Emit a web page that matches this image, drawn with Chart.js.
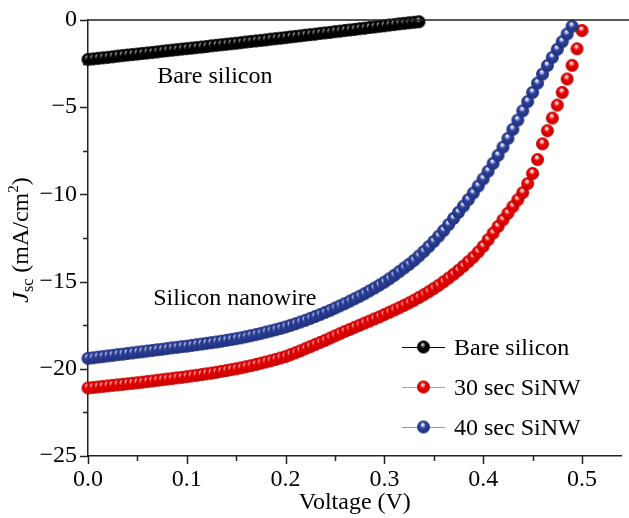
<!DOCTYPE html>
<html>
<meta charset="UTF-8">
<head>
    <title>J-V curves</title>
    <script src="https://cdn.jsdelivr.net/npm/chart.js"></script>
    <style>
        body { margin: 0; background: #fff; }
        #chartContainer { width: 629px; height: 518px; }
    </style>
</head>
<body>
<div id="chartContainer">
    <canvas id="chart"></canvas>
</div>

<script>
    // series labels
    const seriesNames = ['Bare silicon', '30 sec SiNW', '40 sec SiNW'];

    // voltage step of the measurement, V
    const voltageStep = 0.005;

    // Jsc (mA/cm2), one value per voltage step starting at 0 V
    const bareSilicon = [
        -2.26, -2.23, -2.20, -2.17, -2.14, -2.11, -2.07, -2.04, -2.01, -1.98,
        -1.95, -1.92, -1.89, -1.86, -1.83, -1.79, -1.76, -1.73, -1.70, -1.67,
        -1.64, -1.61, -1.58, -1.55, -1.52, -1.48, -1.45, -1.42, -1.39, -1.36,
        -1.33, -1.30, -1.26, -1.23, -1.20, -1.17, -1.14, -1.10, -1.07, -1.04,
        -1.01, -0.97, -0.94, -0.91, -0.87, -0.84, -0.81, -0.77, -0.74, -0.71,
        -0.67, -0.64, -0.60, -0.57, -0.54, -0.50, -0.47, -0.43, -0.40, -0.36,
        -0.33, -0.29, -0.26, -0.22, -0.19, -0.16, -0.13, -0.10
    ];

    const sinw30 = [
        -21.10, -21.07, -21.04, -21.01, -20.98, -20.95, -20.92, -20.89, -20.86, -20.83,
        -20.80, -20.77, -20.73, -20.70, -20.66, -20.63, -20.59, -20.56, -20.52, -20.49,
        -20.45, -20.41, -20.37, -20.33, -20.29, -20.25, -20.20, -20.15, -20.10, -20.05,
        -20.00, -19.94, -19.88, -19.82, -19.75, -19.68, -19.61, -19.54, -19.46, -19.38,
        -19.30, -19.19, -19.08, -18.97, -18.85, -18.73, -18.61, -18.49, -18.37, -18.24,
        -18.11, -17.99, -17.86, -17.74, -17.62, -17.50, -17.38, -17.26, -17.14, -17.02,
        -16.89, -16.76, -16.63, -16.50, -16.36, -16.22, -16.07, -15.91, -15.75, -15.58,
        -15.40, -15.21, -15.01, -14.80, -14.58, -14.35, -14.11, -13.86, -13.60, -13.30,
        -12.98, -12.60, -12.22, -11.84, -11.46, -11.08, -10.70, -10.31, -9.90, -9.38,
        -8.80, -8.00, -7.10, -6.35, -5.62, -4.88, -4.15, -3.38, -2.60, -1.65,
        -0.60
    ];

    const sinw40 = [
        -19.40, -19.37, -19.33, -19.30, -19.26, -19.23, -19.19, -19.16, -19.12, -19.09,
        -19.05, -19.02, -18.98, -18.95, -18.91, -18.88, -18.84, -18.80, -18.77, -18.73,
        -18.70, -18.66, -18.62, -18.58, -18.54, -18.50, -18.46, -18.42, -18.37, -18.32,
        -18.27, -18.22, -18.16, -18.10, -18.04, -17.97, -17.90, -17.83, -17.76, -17.68,
        -17.60, -17.51, -17.42, -17.32, -17.22, -17.11, -17.00, -16.89, -16.77, -16.65,
        -16.52, -16.39, -16.26, -16.12, -15.98, -15.84, -15.69, -15.53, -15.37, -15.20,
        -15.03, -14.84, -14.64, -14.43, -14.22, -14.01, -13.78, -13.53, -13.27, -12.99,
        -12.70, -12.39, -12.07, -11.73, -11.38, -11.03, -10.67, -10.30, -9.92, -9.52,
        -9.11, -8.67, -8.22, -7.76, -7.29, -6.79, -6.27, -5.74, -5.21, -4.68,
        -4.15, -3.62, -3.10, -2.61, -2.14, -1.68, -1.24, -0.80, -0.36
    ];

    // axis ranges and tick steps
    const xRange = [0, 0.54];
    const yRange = [-25, 0];
    const xTickStep = 0.05;   // labels every 0.1
    const yTickStep = 2.5;    // labels every 5

    const FONT = "'Liberation Serif', 'Times New Roman', serif";

    // shaded ball used as marker
    function makeBall(r, light, body, dark) {
        const c = document.createElement('canvas');
        const size = Math.ceil(r * 2) + 2;
        c.width = c.height = size;
        const g = c.getContext('2d');
        const cx = size / 2, cy = size / 2;
        const grad = g.createRadialGradient(cx - r * 0.15, cy - r * 0.45, 0, cx, cy, r);
        grad.addColorStop(0, '#ffffff');
        grad.addColorStop(0.2, light);
        grad.addColorStop(0.45, body);
        grad.addColorStop(1, dark);
        g.fillStyle = grad;
        g.beginPath();
        g.arc(cx, cy, r, 0, Math.PI * 2);
        g.fill();
        return c;
    }

    const balls = [
        makeBall(6.5, '#888888', '#000000', '#000000'),
        makeBall(6.5, '#ffb8b8', '#f00000', '#c00000'),
        makeBall(6.5, '#c0c6f0', '#2d419e', '#1f2f78')
    ];
    const legendLines = ['#000000', '#ff8080', '#8494d4'];

    function toPoints(values) {
        return values.map((v, i) => ({ x: +(i * voltageStep).toFixed(3), y: v }));
    }

    function isMultiple(v, step) {
        return Math.abs(v / step - Math.round(v / step)) < 1e-6;
    }

    // ticks (major + minor), frame top, axis titles, annotations, legend
    const decorations = {
        id: 'decorations',
        afterDraw(chart) {
            const ctx = chart.ctx;
            const a = chart.chartArea;
            const xs = chart.scales.x, ys = chart.scales.y;
            ctx.save();
            ctx.strokeStyle = '#222';
            ctx.lineWidth = 1.5;
            ctx.beginPath();
            xs.ticks.forEach(t => {
                const px = Math.round(xs.getPixelForValue(t.value)) + 0.5;
                const len = isMultiple(t.value, 0.1) ? 8 : 5;
                ctx.moveTo(px, a.bottom);
                ctx.lineTo(px, a.bottom + len);
            });
            ys.ticks.forEach(t => {
                const py = Math.round(ys.getPixelForValue(t.value)) + 0.5;
                const len = isMultiple(t.value, 5) ? 8 : 5;
                ctx.moveTo(a.left, py);
                ctx.lineTo(a.left - len, py);
            });
            // top frame line
            ctx.moveTo(a.left, a.top);
            ctx.lineTo(chart.width, a.top);
            ctx.stroke();

            ctx.fillStyle = '#000';
            ctx.textBaseline = 'alphabetic';

            // x title
            ctx.font = '24px ' + FONT;
            ctx.textAlign = 'center';
            ctx.fillText('Voltage (V)', (a.left + a.right) / 2, 509);

            // y title: J_sc (mA/cm^2)
            ctx.save();
            ctx.translate(28, (a.top + a.bottom) / 2 + 2);
            ctx.rotate(-Math.PI / 2);
            ctx.textAlign = 'left';
            const parts = [
                { t: 'J', f: 'italic 24px ' + FONT, dy: 0 },
                { t: 'sc', f: '16px ' + FONT, dy: 5 },
                { t: ' (mA/cm', f: '24px ' + FONT, dy: 0 },
                { t: '2', f: '15px ' + FONT, dy: -10 },
                { t: ')', f: '24px ' + FONT, dy: 0 }
            ];
            let total = 0;
            parts.forEach(p => { ctx.font = p.f; p.w = ctx.measureText(p.t).width; total += p.w; });
            let x = -total / 2;
            parts.forEach(p => { ctx.font = p.f; ctx.fillText(p.t, x, p.dy); x += p.w; });
            ctx.restore();

            // curve annotations
            ctx.font = '24px ' + FONT;
            ctx.textAlign = 'left';
            ctx.fillText('Bare silicon', xs.getPixelForValue(0.07), ys.getPixelForValue(-3.6));
            ctx.fillText('Silicon nanowire', xs.getPixelForValue(0.066), ys.getPixelForValue(-16.35));

            // legend
            const lx = 402, ly = 347, gap = 40;
            seriesNames.forEach((name, i) => {
                const y = ly + i * gap;
                ctx.strokeStyle = legendLines[i];
                ctx.lineWidth = 1.2;
                ctx.beginPath();
                ctx.moveTo(lx, y + 0.5);
                ctx.lineTo(lx + 43, y + 0.5);
                ctx.stroke();
                const b = balls[i];
                ctx.drawImage(b, lx + 21.5 - b.width / 2, y - b.height / 2);
                ctx.fillText(name, lx + 52, y + 8);
            });
            ctx.restore();
        }
    };

    const ctx = document.getElementById('chart').getContext('2d');
    new Chart(ctx, {
        type: 'scatter',
        data: {
            datasets: [
                { label: seriesNames[0], data: toPoints(bareSilicon), pointStyle: balls[0], order: 2 },
                { label: seriesNames[1], data: toPoints(sinw30), pointStyle: balls[1], order: 1 },
                { label: seriesNames[2], data: toPoints(sinw40), pointStyle: balls[2], order: 0 }
            ].map(d => Object.assign(d, { pointRadius: 6.5, showLine: false, clip: 10 }))
        },
        plugins: [decorations],
        options: {
            responsive: true,
            maintainAspectRatio: false,
            animation: false,
            layout: { padding: { top: 20, right: 1, left: 0, bottom: 0 } },
            plugins: { legend: { display: false }, tooltip: { enabled: false } },
            scales: {
                x: {
                    type: 'linear',
                    min: xRange[0],
                    max: xRange[1],
                    afterFit(scale) { scale.height = 62; },
                    grid: { display: false, tickLength: 8 },
                    border: { display: true, color: '#222', width: 1.5 },
                    ticks: {
                        stepSize: xTickStep,
                        includeBounds: false,
                        autoSkip: false,
                        maxRotation: 0,
                        padding: 1,
                        color: '#000',
                        font: { family: FONT, size: 24 },
                        callback: v => isMultiple(v, 0.1) ? v.toFixed(1) : ''
                    }
                },
                y: {
                    type: 'linear',
                    min: yRange[0],
                    max: yRange[1],
                    afterFit(scale) { scale.width = 88; },
                    grid: { display: false, tickLength: 8 },
                    border: { display: true, color: '#222', width: 1.5 },
                    ticks: {
                        stepSize: yTickStep,
                        autoSkip: false,
                        padding: 3,
                        color: '#000',
                        font: { family: FONT, size: 24 },
                        callback: v => isMultiple(v, 5) ? (v < 0 ? '\u2212' + Math.abs(v) : String(v)) : ''
                    }
                }
            }
        }
    });
</script>
</body>
</html>
